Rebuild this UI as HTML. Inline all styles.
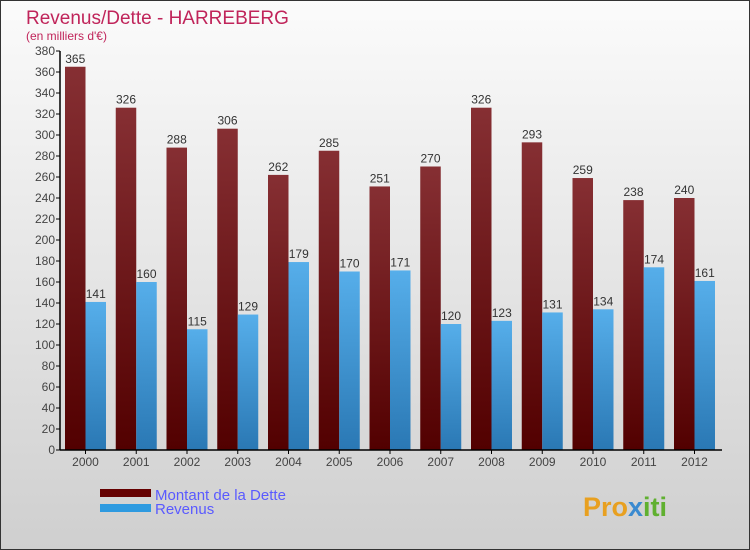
<!DOCTYPE html>
<html><head><meta charset="utf-8"><style>
body{margin:0;width:750px;height:550px;overflow:hidden;font-family:"Liberation Sans",sans-serif}
svg{display:block}
</style></head><body>
<svg width="750" height="550">
<defs>
<linearGradient id="bg" x1="0" y1="0" x2="0" y2="1"><stop offset="0" stop-color="#fbfbfb"/><stop offset="1" stop-color="#cfcfcf"/></linearGradient>
<linearGradient id="gd" x1="0" y1="0" x2="0" y2="1"><stop offset="0" stop-color="#862f33"/><stop offset="1" stop-color="#520000"/></linearGradient>
<linearGradient id="gr" x1="0" y1="0" x2="0" y2="1"><stop offset="0" stop-color="#56aeea"/><stop offset="1" stop-color="#2a78b4"/></linearGradient>
</defs>
<rect x="0.5" y="0.5" width="749" height="549" fill="url(#bg)" stroke="#333"/>
<text x="26" y="24" font-size="19" fill="#c0245a">Revenus/Dette - HARREBERG</text>
<text x="26" y="40" font-size="12" fill="#c0245a">(en milliers d'€)</text>
<g id="plot"></g>
<rect x="100" y="489" width="51" height="8" fill="#650000"/>
<rect x="100" y="504" width="51" height="8" fill="#2e9ae0"/>
<text x="155" y="500" font-size="15" fill="#5a5aff">Montant de la Dette</text>
<text x="155" y="514" font-size="15" fill="#5a5aff">Revenus</text>
<text x="583" y="516" font-size="27" font-weight="bold" fill="#e8a020">Pro<tspan fill="#3a8ad0">x</tspan><tspan fill="#60b030">iti</tspan></text>
</svg>
<script>
const years=["2000","2001","2002","2003","2004","2005","2006","2007","2008","2009","2010","2011","2012"];
const dette=[365,326,288,306,262,285,251,270,326,293,259,238,240];
const revenus=[141,160,115,129,179,170,171,120,123,131,134,174,161];
const ticks=[0,20,40,60,80,100,120,140,160,180,200,220,240,260,280,300,320,340,360,380];
const NS="http://www.w3.org/2000/svg";
const g=document.getElementById('plot');
const y0=450,yTop=51,maxV=380,axX=60,x0=65,pitch=50.75,bw=20.5;
function y(v){return y0-(v/maxV)*(y0-yTop);}
function xg(i){return x0+i*pitch;}
function mk(t,a){const e=document.createElementNS(NS,t);for(const k in a)e.setAttribute(k,a[k]);g.appendChild(e);return e;}
ticks.forEach(v=>{
 const l=mk('line',{x1:axX-4,x2:axX,y1:y(v),y2:y(v),stroke:'#000'});
 
 
 const t=mk('text',{x:axX-5,y:y(v)+4,'font-size':12,'text-anchor':'end',fill:'#444'});
 t.textContent=v;
 
 
});
years.forEach((yr,i)=>{
 const xd=xg(i),xr=xd+bw;
 const b1=mk('rect',{x:xd,y:y(dette[i]),width:bw,height:y0-y(dette[i]),fill:'url(#gd)'});
 
 
 const b2=mk('rect',{x:xr,y:y(revenus[i]),width:bw,height:y0-y(revenus[i]),fill:'url(#gr)'});
 
 
 const t1=mk('text',{x:xd+bw/2,y:y(dette[i])-4,'font-size':12,'text-anchor':'middle',fill:'#333'});
 t1.textContent=dette[i];
 
 
 const t2=mk('text',{x:xr+bw/2,y:y(revenus[i])-4,'font-size':12,'text-anchor':'middle',fill:'#333'});
 t2.textContent=revenus[i];
 
 
 const tk=mk('line',{x1:xd+bw,x2:xd+bw,y1:y0,y2:y0+4,stroke:'#000'});
 
 
 const xl=mk('text',{x:xd+bw,y:y0+16,'font-size':12,'text-anchor':'middle',fill:'#444'});
 xl.textContent=yr;
 
 
});
const ax=mk('line',{x1:axX,x2:axX,y1:yTop,y2:y0,stroke:'#000','stroke-width':1.5});


const bx=mk('line',{x1:axX,x2:722,y1:y0,y2:y0,stroke:'#000','stroke-width':1.5});


</script>
</body></html>
